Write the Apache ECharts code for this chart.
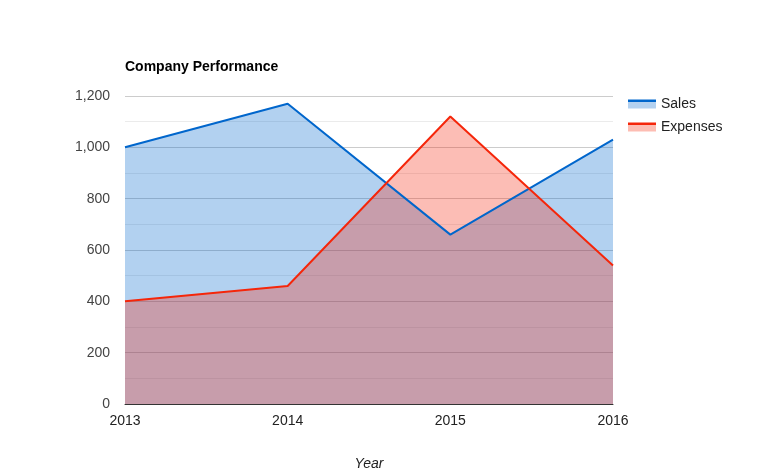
<!DOCTYPE html>
<html>
<head>
<meta charset="utf-8">
<script src="https://cdn.jsdelivr.net/npm/echarts@6/dist/echarts.min.js"></script>
<style>
html,body{margin:0;padding:0;background:#fff;}
#c{width:775px;height:470px;}
</style>
</head>
<body>
<div id="c"></div>
<script>
const years = ['2013', '2014', '2015', '2016'];
const sales = [1000, 1170, 660, 1030];
const expenses = [400, 460, 1120, 540];
const yTicks = [0, 200, 400, 600, 800, 1000, 1200];

const blue = '#0066cc';
const red = '#f5260a';
function legendGrad(line, pale) {
  return new echarts.graphic.LinearGradient(0, 0, 0, 1, [
    {offset: 0, color: line}, {offset: 0.33, color: line},
    {offset: 0.33, color: pale}, {offset: 1, color: pale}
  ]);
}
const chart = echarts.init(document.getElementById('c'), null, {renderer: 'canvas'});
const font = 'Arial, "Liberation Sans", sans-serif';
chart.setOption({
  animation: false,
  textStyle: {fontFamily: font},
  title: {
    text: 'Company Performance', left: 120, top: 55,
    textStyle: {fontSize: 14, fontWeight: 'bold', color: '#000', fontFamily: font}
  },
  legend: {
    orient: 'vertical', left: 623, top: 92, itemGap: 9,
    itemWidth: 28, itemHeight: 9, icon: 'rect',
    textStyle: {fontSize: 14, color: '#222', fontFamily: font},
    data: [
      {name: 'Sales', itemStyle: {color: legendGrad(blue, '#b3d1f0')}},
      {name: 'Expenses', itemStyle: {color: legendGrad(red, '#fdbdb3')}}
    ]
  },
  grid: {left: 125, right: 162, top: 96, bottom: 66, outerBoundsMode: 'none', containLabel: false},
  xAxis: {
    type: 'category', data: years, boundaryGap: false,
    name: 'Year', nameLocation: 'middle', nameGap: 53,
    nameTextStyle: {fontStyle: 'italic', fontSize: 14, color: '#222', fontFamily: font},
    axisLine: {lineStyle: {color: '#333', width: 1}},
    axisTick: {show: false},
    axisLabel: {fontSize: 14, color: '#222', margin: 10, fontFamily: font}
  },
  yAxis: {
    type: 'value', min: yTicks[0], max: yTicks[yTicks.length - 1], interval: 200,
    axisLine: {show: false}, axisTick: {show: false},
    axisLabel: {fontSize: 14, color: '#444', margin: 15, fontFamily: font,
      formatter: v => String(v).replace(/\B(?=(\d{3})+(?!\d))/g, ',')},
    splitLine: {lineStyle: {color: '#cccccc'}},
    minorTick: {show: false, splitNumber: 2},
    minorSplitLine: {show: true, lineStyle: {color: '#ebebeb'}}
  },
  series: [
    {name: 'Sales', type: 'line', data: sales, showSymbol: false, symbol: 'none',
     lineStyle: {color: blue, width: 2}, itemStyle: {color: blue},
     areaStyle: {color: blue, opacity: 0.3}},
    {name: 'Expenses', type: 'line', data: expenses, showSymbol: false, symbol: 'none',
     lineStyle: {color: red, width: 2}, itemStyle: {color: red},
     areaStyle: {color: red, opacity: 0.3}}
  ]
});
</script>
</body>
</html>
